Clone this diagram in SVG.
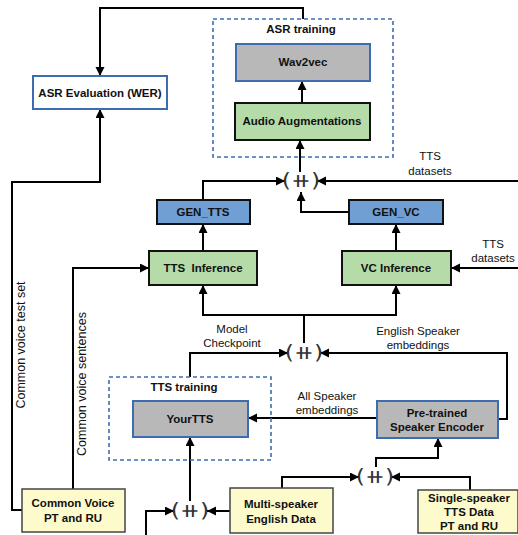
<svg xmlns="http://www.w3.org/2000/svg" width="518" height="535" viewBox="0 0 518 535">
<defs>
<marker id="ah" markerUnits="userSpaceOnUse" markerWidth="10" markerHeight="10" refX="9" refY="4.5" orient="auto">
<path d="M0,0 L9,4.5 L0,9 z" fill="#000"/>
</marker>
<style>
.box{stroke-width:2}
.g{fill:#b5dba8;stroke:#111}
.gr{fill:#b8b8b8;stroke:#3d6db0}
.bl{fill:#6f9fd3;stroke:#111}
.y{fill:#fdfbcc;stroke:#444;stroke-width:1.5}
.w{fill:#fff;stroke:#3d6db0}
.dash{fill:none;stroke:#3d6db0;stroke-width:1.6;stroke-dasharray:4,3}
.t{font-family:"Liberation Sans",Arial,sans-serif;font-weight:bold;font-size:11.5px;text-anchor:middle;fill:#111}
.l{font-family:"Liberation Sans",Arial,sans-serif;font-size:11.5px;text-anchor:middle;fill:#111}
.r{font-size:12.5px}
.c{font-family:"DejaVu Sans",sans-serif;font-size:19px;text-anchor:middle;fill:#333}
.cn path{fill:none;stroke:#000;stroke-width:2;marker-end:url(#ah)}
</style>
</defs>
<rect width="518" height="535" fill="#fff"/>

<g id="connectors" class="cn">
<path d="M303,19 V8 H100 V76"/>
<path d="M22,510 H12 V182 H100 V109"/>
<path d="M73,489 V268 H149"/>
<path d="M302,103 V81"/>
<path d="M300,172 V140"/>
<path d="M203,200 V181 H285"/>
<path d="M518,181 H317"/>
<path d="M349,212 H301 V192"/>
<path d="M203,251 V224"/>
<path d="M396,251 V224"/>
<path d="M518,268 H451"/>
<path d="M304,343 V315 H203 V285"/>
<path d="M304,315 H396 V285"/>
<path d="M190,377 V353 H288"/>
<path d="M498,419 H507 V353 H320"/>
<path d="M377,418 H248"/>
<path d="M190,501 V437"/>
<path d="M146,535 V511 H174"/>
<path d="M230,511 H207"/>
<path d="M282,488 V477 H359"/>
<path d="M470,490 V477 H391"/>
<path d="M376,467 V458 H438 V438"/>
</g>

<g id="concat1"><text class="c" transform="translate(301,187) scale(1.25,1)">(⧺)</text></g>
<g id="concat2"><text class="c" transform="translate(304,359) scale(1.25,1)">(⧺)</text></g>
<g id="concat3"><text class="c" transform="translate(190,517) scale(1.25,1)">(⧺)</text></g>
<g id="concat4"><text class="c" transform="translate(375,483) scale(1.25,1)">(⧺)</text></g>

<g id="asr-training">
<rect class="dash" x="213" y="19" width="180" height="138"/>
<text class="t" x="301" y="33">ASR training</text>
</g>
<g id="wav2vec"><rect class="box gr" x="236" y="44" width="134" height="37"/><text class="t" x="303" y="66">Wav2vec</text></g>
<g id="audio-aug"><rect class="box g" x="235" y="103" width="135" height="37"/><text class="t" x="302" y="125">Audio Augmentations</text></g>
<g id="asr-eval"><rect class="box w" x="33" y="76" width="134" height="33"/><text class="t" x="100" y="97">ASR Evaluation (WER)</text></g>

<g id="gen-tts"><rect class="box bl" x="157" y="200" width="93" height="24"/><text class="t" x="203" y="216">GEN_TTS</text></g>
<g id="gen-vc"><rect class="box bl" x="349" y="200" width="94" height="24"/><text class="t" x="396" y="216">GEN_VC</text></g>
<g id="tts-inf"><rect class="box g" x="149" y="251" width="108" height="34"/><text class="t" x="203" y="272" xml:space="preserve">TTS  Inference</text></g>
<g id="vc-inf"><rect class="box g" x="342" y="251" width="109" height="34"/><text class="t" x="396" y="272">VC Inference</text></g>

<g id="tts-training">
<rect class="dash" x="109" y="377" width="162" height="83"/>
<text class="t" x="184" y="391">TTS training</text>
</g>
<g id="yourtts"><rect class="box gr" x="133" y="401" width="115" height="36"/><text class="t" x="190" y="423">YourTTS</text></g>
<g id="encoder"><rect class="box gr" x="377" y="401" width="121" height="37"/><text class="t" x="437" y="417">Pre-trained</text><text class="t" x="437" y="431">Speaker Encoder</text></g>

<g id="common-voice"><rect class="y" x="22" y="489" width="103" height="43"/><text class="t" x="73" y="507">Common Voice</text><text class="t" x="73" y="522">PT and RU</text></g>
<g id="multi-speaker"><rect class="y" x="230" y="488" width="103" height="45"/><text class="t" x="281" y="508">Multi-speaker</text><text class="t" x="281" y="523">English Data</text></g>
<g id="single-speaker"><rect class="y" x="418" y="490" width="100" height="43"/><text class="t" x="469" y="502">Single-speaker</text><text class="t" x="469" y="516">TTS Data</text><text class="t" x="469" y="530">PT and RU</text></g>

<g id="labels">
<text class="l" x="430" y="160">TTS</text>
<text class="l" x="430" y="175">datasets</text>
<text class="l" x="493" y="248">TTS</text>
<text class="l" x="493" y="262">datasets</text>
<text class="l" x="232" y="333">Model</text>
<text class="l" x="232" y="347">Checkpoint</text>
<text class="l" x="418" y="335">English Speaker</text>
<text class="l" x="418" y="349">embeddings</text>
<text class="l" x="327" y="400">All Speaker</text>
<text class="l" x="327" y="414">embeddings</text>
<text class="l r" transform="translate(25,345) rotate(-90)">Common voice test set</text>
<text class="l r" transform="translate(86,384) rotate(-90)">Common voice sentences</text>
</g>
</svg>
